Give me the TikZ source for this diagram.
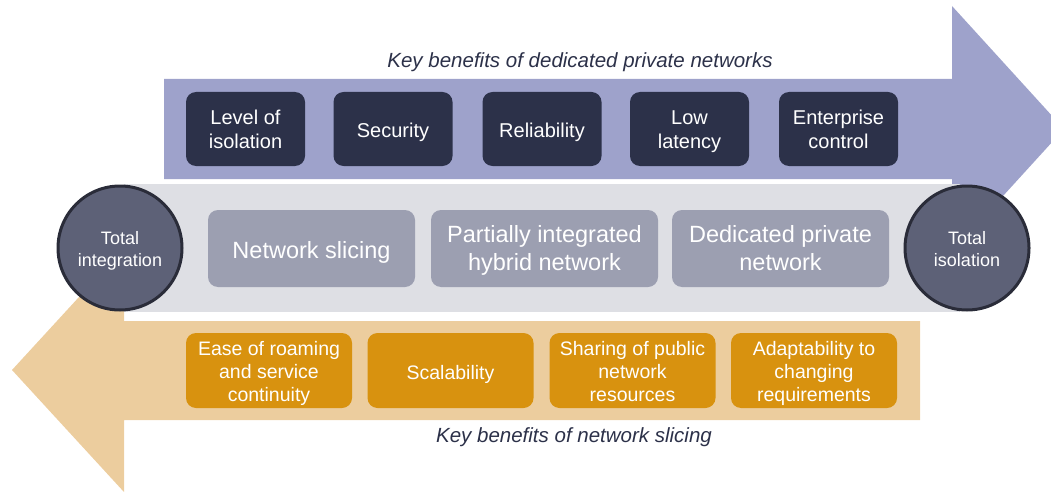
\documentclass[tikz,border=0pt]{standalone}
\usepackage{fontspec}
\setmainfont{Liberation Sans}
\definecolor{purpleArrow}{HTML}{9EA2CB}
\definecolor{navy}{HTML}{2C3149}
\definecolor{band}{HTML}{DEDFE4}
\definecolor{grayBox}{HTML}{9C9FB1}
\definecolor{circleFill}{HTML}{5D6177}
\definecolor{circleBorder}{HTML}{2A2C39}
\definecolor{tanArrow}{HTML}{ECCD9E}
\definecolor{orangeBox}{HTML}{D8920F}
\begin{document}
\begin{tikzpicture}[x=1pt,y=-1pt,
  boxtext/.style={execute at begin node={\strut},execute at end node={\strut},align=center,text=white,inner sep=0pt,yshift=-4pt},
  toptext/.style={boxtext,font=\fontsize{20}{24}\selectfont},
  midtext/.style={boxtext,font=\fontsize{23.5}{28}\selectfont},
  bottext/.style={boxtext,font=\fontsize{19.5}{23}\selectfont},
  circtext/.style={boxtext,font=\fontsize{18}{22}\selectfont},
  topbox/.style={fill=navy,rounded corners=10pt,minimum width=119pt,minimum height=74pt,inner sep=0pt},
  midbox/.style={fill=grayBox,rounded corners=10pt,minimum height=77pt,inner sep=0pt},
  botbox/.style={fill=orangeBox,rounded corners=10pt,minimum width=166pt,minimum height=75pt,inner sep=0pt},
  endcircle/.style={circle,fill=circleFill,draw=circleBorder,line width=3pt,minimum size=124pt,inner sep=0pt},
  titletext/.style={text=navy,font=\fontsize{20.5}{24}\selectfont\itshape}
]
\useasboundingbox (0,0) rectangle (1051,492);
\clip (0,0) rectangle (1051,492);
% top arrow
\fill[purpleArrow] (164,79) -- (952,79) -- (952,6) -- (1064,129) -- (952,252) -- (952,179) -- (164,179) -- cycle;
% bottom arrow
\fill[tanArrow] (920,321) -- (124,321) -- (124,248) -- (12,370) -- (124,492) -- (124,420) -- (920,420) -- cycle;
% middle band
\fill[band] (124,184) rectangle (960,312);
% titles
\node[titletext] (toptitle) at (580,62) {Key benefits of dedicated private networks};
\node[titletext] (bottitle) at (574,437) {Key benefits of network slicing};
% top boxes
\node[topbox,label={[toptext]center:Level of\\isolation}] (t1) at (245.5,129) {};
\node[topbox,label={[toptext]center:Security}] (t2) at (393,129) {};
\node[topbox,label={[toptext]center:Reliability}] (t3) at (542,129) {};
\node[topbox,label={[toptext]center:Low\\latency}] (t4) at (689.5,129) {};
\node[topbox,label={[toptext]center:Enterprise\\control}] (t5) at (838.5,129) {};
% middle boxes
\node[midbox,minimum width=207pt,label={[midtext]center:Network slicing}] (m1) at (311.5,248.5) {};
\node[midbox,minimum width=227pt,label={[midtext]center:Partially integrated\\hybrid network}] (m2) at (544.5,248.5) {};
\node[midbox,minimum width=217pt,label={[midtext]center:Dedicated private\\network}] (m3) at (780.5,248.5) {};
% circles
\node[endcircle,label={[circtext]center:Total\\integration}] (c1) at (120,248) {};
\node[endcircle,label={[circtext]center:Total\\isolation}] (c2) at (967,248) {};
% bottom boxes
\node[botbox,label={[bottext]center:Ease of roaming\\and service\\continuity}] (b1) at (269,370.5) {};
\node[botbox,label={[bottext]center:Scalability}] (b2) at (450.5,370.5) {};
\node[botbox,label={[bottext]center:Sharing of public\\network\\resources}] (b3) at (632.5,370.5) {};
\node[botbox,label={[bottext]center:Adaptability to\\changing\\requirements}] (b4) at (814,370.5) {};
\end{tikzpicture}
\end{document}
